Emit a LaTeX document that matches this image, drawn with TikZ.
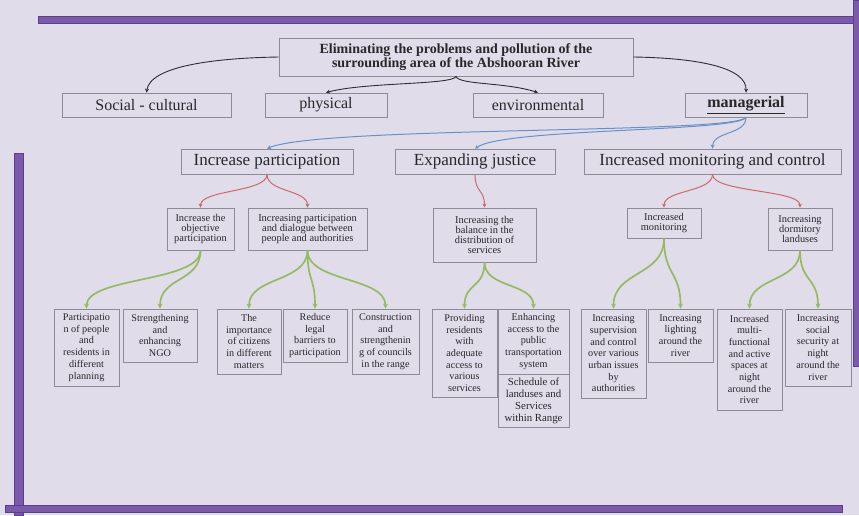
\documentclass[tikz,border=0pt]{standalone}
\usepackage{fontspec}
\setmainfont{Liberation Serif}
\usetikzlibrary{arrows.meta,calc}
\definecolor{bg}{RGB}{225,220,234}
\definecolor{bar}{RGB}{124,90,170}
\definecolor{bardark}{RGB}{92,62,138}
\definecolor{frame}{RGB}{140,140,150}
\definecolor{ink}{RGB}{40,40,42}
\definecolor{blk}{RGB}{45,45,50}
\definecolor{blu}{RGB}{105,145,200}
\definecolor{redc}{RGB}{205,105,105}
\definecolor{grn}{RGB}{150,185,100}

\begin{document}
\begin{tikzpicture}[x=1pt,y=-1pt,
  box/.style={draw=frame, line width=0.8pt, inner sep=0pt, align=center, text=ink},
  headbox/.style={box, font=\fontsize{14}{14.5}\selectfont\bfseries},
  lvlone/.style={box, font=\fontsize{16}{18}\selectfont, minimum height=24pt},
  lvltwo/.style={box, font=\fontsize{17}{19}\selectfont, minimum height=25pt},
  lvlthree/.style={box, font=\fontsize{10.4}{10.2}\selectfont},
  leaf/.style={box, font=\fontsize{10.2}{11.7}\selectfont},
  sconn/.style={to path={.. controls ($(\tikztostart)+(0,#1)$) and ($(\tikztotarget)+(0,-#1)$) .. (\tikztotarget) \tikztonodes}},
  blkarrow/.style={draw=blk, line width=0.9pt, -{Stealth[length=4pt,width=4pt]}},
  bluarrow/.style={draw=blu, line width=1pt, -{Stealth[length=4pt,width=4pt]}},
  redarrow/.style={draw=redc, line width=1pt, -{Stealth[length=4pt,width=4pt]}},
  grnarrow/.style={draw=grn, line width=1.7pt, -{Stealth[length=5pt,width=5pt]}},
  barfill/.style={fill=bar, draw=bardark, line width=0.6pt}
]
% page background and frame bars
\fill[bg] (0,0) rectangle (859,515);
\useasboundingbox (0,0) rectangle (859,515);
\path[barfill] (38,16) rectangle (859,23);
\path[barfill] (853,0) rectangle (859,366);
\path[barfill] (14,153) rectangle (23,515);
\path[barfill] (5,505) rectangle (842,512);

% goal
\node[headbox, minimum width=354pt, minimum height=38pt] (top) at (456,57)
  {Eliminating the problems and pollution of the\\surrounding area of the Abshooran River};

% dimensions
\node[lvlone, minimum width=169pt] (soc) at (146.5,105) {Social - cultural};
\node[lvlone, minimum width=122pt] (phy) at (326,105) {physical};
\node[lvlone, minimum width=130pt] (env) at (538,105) {environmental};
\node[lvlone, minimum width=122pt] (mgr) at (746,105) {\underline{\textbf{managerial}}};

% managerial strategies
\node[lvltwo, minimum width=172pt] (ip) at (267,161.5) {Increase participation};
\node[lvltwo, minimum width=160pt] (ej) at (475,161.5) {Expanding justice};
\node[lvltwo, minimum width=257pt] (imc) at (712.5,161.5) {Increased monitoring and control};

% sub-strategies
\node[lvlthree, minimum width=67pt, minimum height=42pt] (obj) at (200.5,229)
  {Increase the\\objective\\participation};
\node[lvlthree, minimum width=119pt, minimum height=42pt] (dlg) at (307.5,229)
  {Increasing participation\\and dialogue between\\people and authorities};
\node[lvlthree, minimum width=103pt, minimum height=54pt] (bal) at (484.5,235)
  {Increasing the\\balance in the\\distribution of\\services};
\node[lvlthree, minimum width=74pt, minimum height=30pt] (mon) at (664,223)
  {Increased\\monitoring};
\node[lvlthree, minimum width=64pt, minimum height=42pt] (dorm) at (800,229)
  {Increasing\\dormitory\\landuses};

% actions
\node[leaf, minimum width=65pt, minimum height=77pt] (p1) at (86.5,347.5)
  {Participatio\\n of people\\and\\residents in\\different\\planning};
\node[leaf, minimum width=74pt, minimum height=53pt] (p2) at (160,335.5)
  {Strengthening\\and\\enhancing\\NGO};
\node[leaf, minimum width=64pt, minimum height=65pt] (p3) at (249,341.5)
  {The\\importance\\of citizens\\in different\\matters};
\node[leaf, minimum width=64pt, minimum height=53pt] (p4) at (315,335.5)
  {Reduce\\legal\\barriers to\\participation};
\node[leaf, minimum width=67pt, minimum height=65pt] (p5) at (385.5,341.5)
  {Construction\\and\\strengthenin\\g of councils\\in the range};
\node[leaf, minimum width=65pt, minimum height=88pt] (j1) at (464.5,353)
  {Providing\\residents\\with\\adequate\\access to\\various\\services};
\node[leaf, minimum width=71pt, minimum height=65pt] (j2) at (533.5,341.5)
  {Enhancing\\access to the\\public\\transportation\\system};
\node[leaf, minimum width=71pt, minimum height=53pt, font=\fontsize{10.8}{12}\selectfont] (j3) at (533.5,400.5)
  {Schedule of\\landuses and\\Services\\within Range};
\node[leaf, minimum width=65pt, minimum height=89pt] (m1) at (613.5,353.5)
  {Increasing\\supervision\\and control\\over various\\urban issues\\by\\authorities};
\node[leaf, minimum width=65pt, minimum height=53pt] (m2) at (680.5,335.5)
  {Increasing\\lighting\\around the\\river};
\node[leaf, minimum width=65pt, minimum height=101pt] (d1) at (749.5,359.5)
  {Increased\\multi-\\functional\\and active\\spaces at\\night\\around the\\river};
\node[leaf, minimum width=66pt, minimum height=77pt] (d2) at (818,347.5)
  {Increasing\\social\\security at\\night\\around the\\river};

% goal to dimensions
\draw[blkarrow] (top.west) .. controls (215,58) and (150,66) .. (soc.north);
\draw[blkarrow] (top.east) .. controls (700,58) and (747,68) .. (mgr.north);
\draw[blkarrow] (top.south) .. controls (453,85) and (365,82) .. (phy.north);
\draw[blkarrow] (top.south) .. controls (459,85) and (505,82) .. (env.north);

% managerial to strategies
\draw[bluarrow] (mgr.south) .. controls (735,134) and (320,126) .. (ip.north);
\draw[bluarrow] (mgr.south) .. controls (738,132) and (505,128) .. (ej.north);
\draw[bluarrow] (mgr.south) .. controls (746,135) and (713,131) .. (imc.north);

% strategies to sub-strategies
\draw[redarrow, sconn=18] (ip.south) to (obj.north);
\draw[redarrow, sconn=18] (ip.south) to (dlg.north);
\draw[redarrow, sconn=18] (ej.south) to (bal.north);
\draw[redarrow, sconn=18] (imc.south) to (mon.north);
\draw[redarrow, sconn=18] (imc.south) to (dorm.north);

% sub-strategies to actions
\draw[grnarrow, sconn=32] (obj.south) to (p1.north);
\draw[grnarrow, sconn=32] (obj.south) to (p2.north);
\draw[grnarrow, sconn=32] (dlg.south) to (p3.north);
\draw[grnarrow, sconn=32] (dlg.south) to (p4.north);
\draw[grnarrow, sconn=32] (dlg.south) to (p5.north);
\draw[grnarrow, sconn=26] (bal.south) to (j1.north);
\draw[grnarrow, sconn=26] (bal.south) to (j2.north);
\draw[grnarrow, sconn=38] (mon.south) to (m1.north);
\draw[grnarrow, sconn=38] (mon.south) to (m2.north);
\draw[grnarrow, sconn=32] (dorm.south) to (d1.north);
\draw[grnarrow, sconn=32] (dorm.south) to (d2.north);
\end{tikzpicture}
\end{document}
